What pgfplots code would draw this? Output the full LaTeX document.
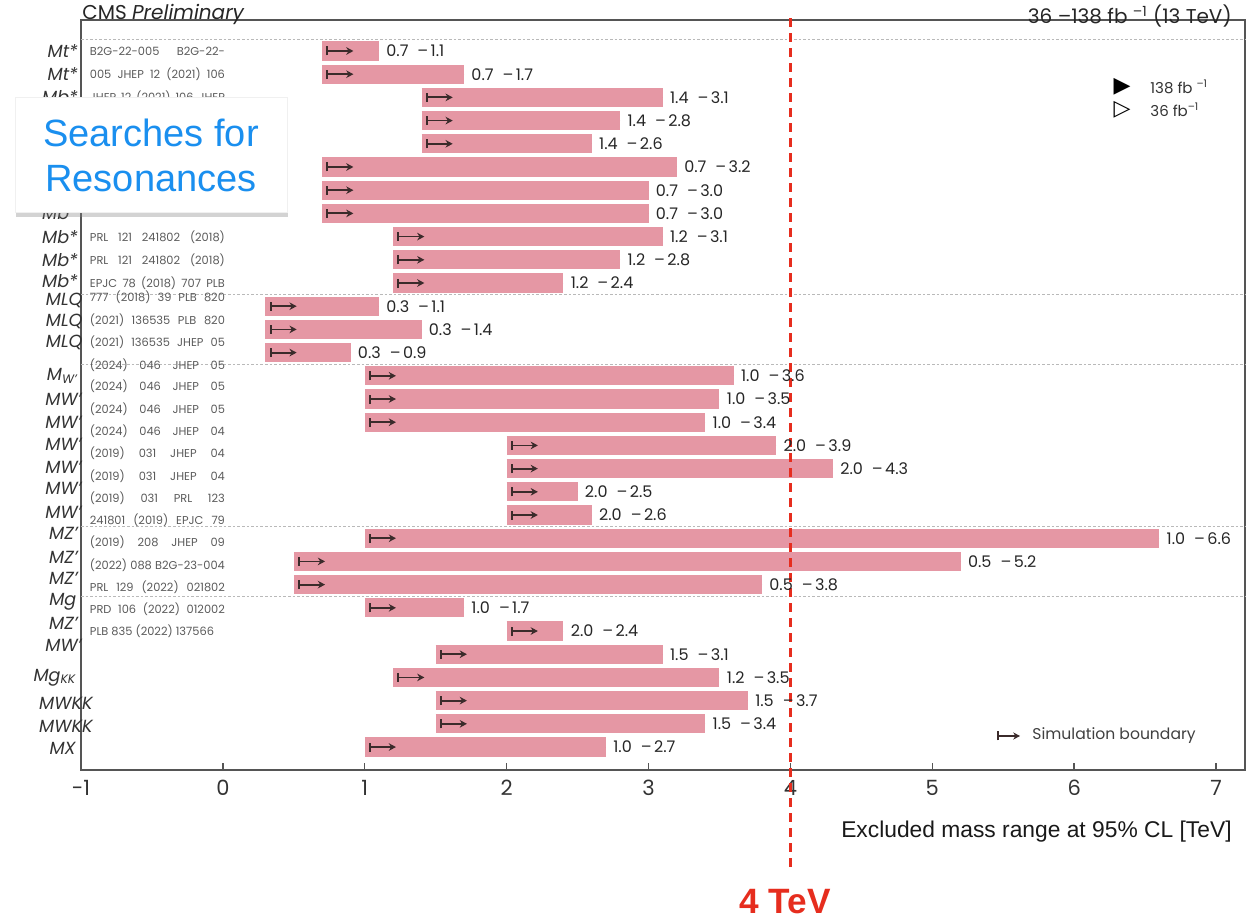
\documentclass[border=0pt]{standalone}
\usepackage{fontspec}
\setmainfont{Poppins}
\newfontfamily\helv{Liberation Sans}
\newfontfamily\dejavu{DejaVu Sans}
\usepackage{pgfplots}
\pgfplotsset{compat=1.18}
\usepackage{pgfplotstable}
\usetikzlibrary{arrows.meta,shadows}

\definecolor{barpink}{HTML}{E597A4}
\definecolor{arrowdark}{HTML}{3B2B2B}
\definecolor{titleblue}{HTML}{1A8FEF}
\definecolor{cmsred}{HTML}{E62D1E}
\definecolor{framegray}{HTML}{555555}
\definecolor{refgray}{HTML}{5A5A5A}

% excluded mass ranges [TeV], one row per analysis (row 1 at the top)
\pgfplotstableread[col sep=comma]{
row,lo,hi
1,0.7,1.1
2,0.7,1.7
3,1.4,3.1
4,1.4,2.8
5,1.4,2.6
6,0.7,3.2
7,0.7,3.0
8,0.7,3.0
9,1.2,3.1
10,1.2,2.8
11,1.2,2.4
12,0.3,1.1
13,0.3,1.4
14,0.3,0.9
15,1.0,3.6
16,1.0,3.5
17,1.0,3.4
18,2.0,3.9
19,2.0,4.3
20,2.0,2.5
21,2.0,2.6
22,1.0,6.6
23,0.5,5.2
24,0.5,3.8
25,1.0,1.7
26,2.0,2.4
27,1.5,3.1
28,1.2,3.5
29,1.5,3.7
30,1.5,3.4
31,1.0,2.7
}\excl

\tikzset{
  ylab/.style={anchor=east, inner sep=0pt, font=\fontsize{8.8}{10}\selectfont\itshape, text=black!80},
  refl/.style={anchor=west, inner sep=0pt, font=\fontsize{5.7}{6.5}\selectfont, text=refgray},
}
\newcommand{\jref}[1]{\makebox[67.5pt][s]{#1}}
\newcommand{\tev}[1]{\pgfmathprintnumber[fixed,fixed zerofill,precision=1]{#1}}

\begin{document}
\begin{tikzpicture}
\path[use as bounding box] (-40.5pt,-77pt) rectangle (582.5pt,385pt);
\begin{axis}[
  at={(0pt,0pt)}, anchor=south west,
  scale only axis, width=582pt, height=375pt,
  xmin=-1, xmax=7.204, ymin=-0.336, ymax=31.99, y dir=reverse,
  axis line style={framegray, line width=0.8pt},
  xtick={-1,0,...,7}, ytick=\empty,
  xtick pos=lower, tick align=inside, major tick length=3.5pt,
  tick style={framegray, line width=0.7pt},
  xticklabel style={font=\fontsize{10.5}{12}\selectfont, text=black!80, yshift=-1.5pt},
  /pgf/number format/assume math mode=true,
  clip=false,
]
% group separators
\pgfplotsinvokeforeach{0.5,11.5,14.5,21.5,24.5}{
  \addplot[sharp plot, mark=none, draw=gray!55, line width=0.5pt,
    dash pattern=on 1.3pt off 1pt, forget plot] coordinates {(-1,#1) (7.204,#1)};
}
% excluded ranges, drawn as thick segments from lo to hi
\addplot[quiver={u=\thisrow{hi}-\thisrow{lo}, v=0}, mark=none, draw=barpink,
  line width=9.6pt, line cap=butt]
  table[x=lo, y=row]{\excl};
% simulation boundary arrows
\addplot[quiver={u=0.19, v=0}, mark=none, draw=arrowdark, line width=0.9pt,
  arrows={Bar[width=4.5pt]-Stealth[length=3.6pt,width=3.8pt]}]
  table[x expr=\thisrow{lo}+0.03, y=row]{\excl};
% range labels
\addplot[only marks, mark=*, mark size=0pt, mark options={draw=none, fill=none},
  point meta=x,
  visualization depends on={\thisrow{lo}\as\lo},
  visualization depends on={\thisrow{hi}\as\hi},
  nodes near coords={\tev{\lo}\hspace{4.5pt}\textendash\hspace{1.2pt}\tev{\hi}},
  nodes near coords style={anchor=west, inner sep=0pt, xshift=3.5pt,
    font=\fontsize{8}{9.5}\selectfont, text=black!85}]
  table[x=hi, y=row]{\excl};

% row labels
\node[ylab] at (axis cs:-1.02,1) {Mt*};
\node[ylab] at (axis cs:-1.02,2) {Mt*};
\node[ylab] at (axis cs:-1.02,3) {Mb*};
\node[ylab] at (axis cs:-1.02,8) {Mb*};
\node[ylab] at (axis cs:-1.02,9) {Mb*};
\node[ylab] at (axis cs:-1.02,10) {Mb*};
\node[ylab] at (axis cs:-1.02,10.93) {Mb*};
\node[ylab] at (axis cs:-0.986,11.75) {MLQ};
\node[ylab] at (axis cs:-0.986,12.65) {MLQ};
\node[ylab] at (axis cs:-0.986,13.55) {MLQ};
\node[ylab] at (axis cs:-1.02,15) {M\textsubscript{W'}};
\node[ylab] at (axis cs:-0.993,16) {MW'};
\node[ylab] at (axis cs:-0.993,17) {MW'};
\node[ylab] at (axis cs:-0.993,17.94) {MW'};
\node[ylab] at (axis cs:-0.993,18.93) {MW'};
\node[ylab] at (axis cs:-0.993,19.84) {MW'};
\node[ylab] at (axis cs:-0.993,20.87) {MW'};
\node[ylab] at (axis cs:-1.02,21.78) {MZ'};
\node[ylab] at (axis cs:-1.02,22.81) {MZ'};
\node[ylab] at (axis cs:-1.02,23.72) {MZ'};
\node[ylab] at (axis cs:-1.03,24.75) {Mg};
\node[ylab] at (axis cs:-1.02,25.66) {MZ'};
\node[ylab] at (axis cs:-0.993,26.6) {MW'};
\node[ylab] at (axis cs:-1.03,28.0) {Mg\textsubscript{KK}};
\node[ylab] at (axis cs:-0.915,29.1) {MWKK};
\node[ylab] at (axis cs:-0.915,30.1) {MWKK};
\node[ylab] at (axis cs:-1.035,31.04) {MX};

% publication references
\node[refl] at (axis cs:-0.94,1) {\jref{B2G-22-005 B2G-22-}};
\node[refl] at (axis cs:-0.94,2) {\jref{005 JHEP 12 (2021) 106}};
\node[refl] at (axis cs:-0.94,3) {\jref{JHEP 12 (2021) 106 JHEP}};
\node[refl] at (axis cs:-0.94,9.02) {\jref{PRL 121 241802 (2018)}};
\node[refl] at (axis cs:-0.94,10.02) {\jref{PRL 121 241802 (2018)}};
\node[refl] at (axis cs:-0.94,11.02) {\jref{EPJC 78 (2018) 707 PLB}};
\node[refl] at (axis cs:-0.94,11.63) {\jref{777 (2018) 39 PLB 820}};
\node[refl] at (axis cs:-0.94,12.6) {\jref{(2021) 136535 PLB 820}};
\node[refl] at (axis cs:-0.94,13.54) {\jref{(2021) 136535 JHEP 05}};
\node[refl] at (axis cs:-0.94,14.53) {\jref{(2024) 046 JHEP 05}};
\node[refl] at (axis cs:-0.94,15.44) {\jref{(2024) 046 JHEP 05}};
\node[refl] at (axis cs:-0.94,16.43) {\jref{(2024) 046 JHEP 05}};
\node[refl] at (axis cs:-0.94,17.38) {\jref{(2024) 046 JHEP 04}};
\node[refl] at (axis cs:-0.94,18.33) {\jref{(2019) 031 JHEP 04}};
\node[refl] at (axis cs:-0.94,19.32) {\jref{(2019) 031 JHEP 04}};
\node[refl] at (axis cs:-0.94,20.27) {\jref{(2019) 031 PRL 123}};
\node[refl] at (axis cs:-0.94,21.22) {\jref{241801 (2019) EPJC 79}};
\node[refl] at (axis cs:-0.94,22.16) {\jref{(2019) 208 JHEP 09}};
\node[refl] at (axis cs:-0.94,23.16) {\jref{(2022) 088 B2G-23-004}};
\node[refl] at (axis cs:-0.94,24.1) {\jref{PRL 129 (2022) 021802}};
\node[refl] at (axis cs:-0.94,25.05) {\jref{PRD 106 (2022) 012002}};
\node[refl] at (axis cs:-0.94,26.0) {PLB 835 (2022) 137566};

% 4 TeV reference line
\addplot[sharp plot, mark=none, cmsred, line width=1.5pt,
  dash pattern=on 4.5pt off 3pt, forget plot] coordinates {(4,-0.42) (4,36.2)};
\end{axis}

% headers
\node[anchor=west, inner sep=0pt, font=\fontsize{10}{12}\selectfont, text=black!85]
  at (0.5pt,378pt) {CMS \textit{Preliminary}};
\node[anchor=east, inner sep=0pt, font=\fontsize{10}{12}\selectfont, text=black!85]
  at (575.5pt,377pt) {36 \textendash138 fb \textsuperscript{\textendash1}\ (13 TeV)};

% luminosity key
\node[inner sep=0pt, font=\dejavu\fontsize{11}{11}\selectfont] at (520.5pt,341.5pt) {▶};
\node[inner sep=0pt, font=\dejavu\fontsize{11}{11}\selectfont] at (520.5pt,330pt) {▷};
\node[anchor=west, inner sep=0pt, font=\fontsize{7.5}{9}\selectfont, text=black!80]
  at (534.5pt,341.5pt) {138 fb \textsuperscript{\textendash1}};
\node[anchor=west, inner sep=0pt, font=\fontsize{7.5}{9}\selectfont, text=black!80]
  at (534.5pt,330pt) {36 fb\textsuperscript{\textendash1}};

% simulation boundary key
\draw[arrowdark, line width=0.9pt, arrows={Bar[width=4.5pt]-Stealth[length=3.4pt,width=3.6pt]}]
  (458pt,17pt) -- (469.5pt,17pt);
\node[anchor=west, inner sep=0pt, font=\fontsize{7.8}{9}\selectfont, text=black!75]
  at (475.5pt,17pt) {Simulation boundary};

% axis title and reference line label
\node[anchor=east, inner sep=0pt, font=\helv\fontsize{11.4}{13}\selectfont, text=black!90]
  at (575.5pt,-31pt) {Excluded mass range at 95\% CL [TeV]};
\node[inner sep=0pt, font=\helv\bfseries\fontsize{17.6}{20}\selectfont, text=cmsred]
  at (352pt,-66pt) {4 TeV};

% section tag
\node[fill=white, draw=gray!12, drop shadow={opacity=0.35, shadow xshift=0.5pt, shadow yshift=-2.5pt},
  minimum width=136pt, minimum height=57.5pt, inner sep=0pt, align=center,
  font=\helv\fontsize{19}{22.5}\selectfont, text=titleblue]
  at (35pt,307.5pt) {Searches for\\Resonances};
\end{tikzpicture}
\end{document}
